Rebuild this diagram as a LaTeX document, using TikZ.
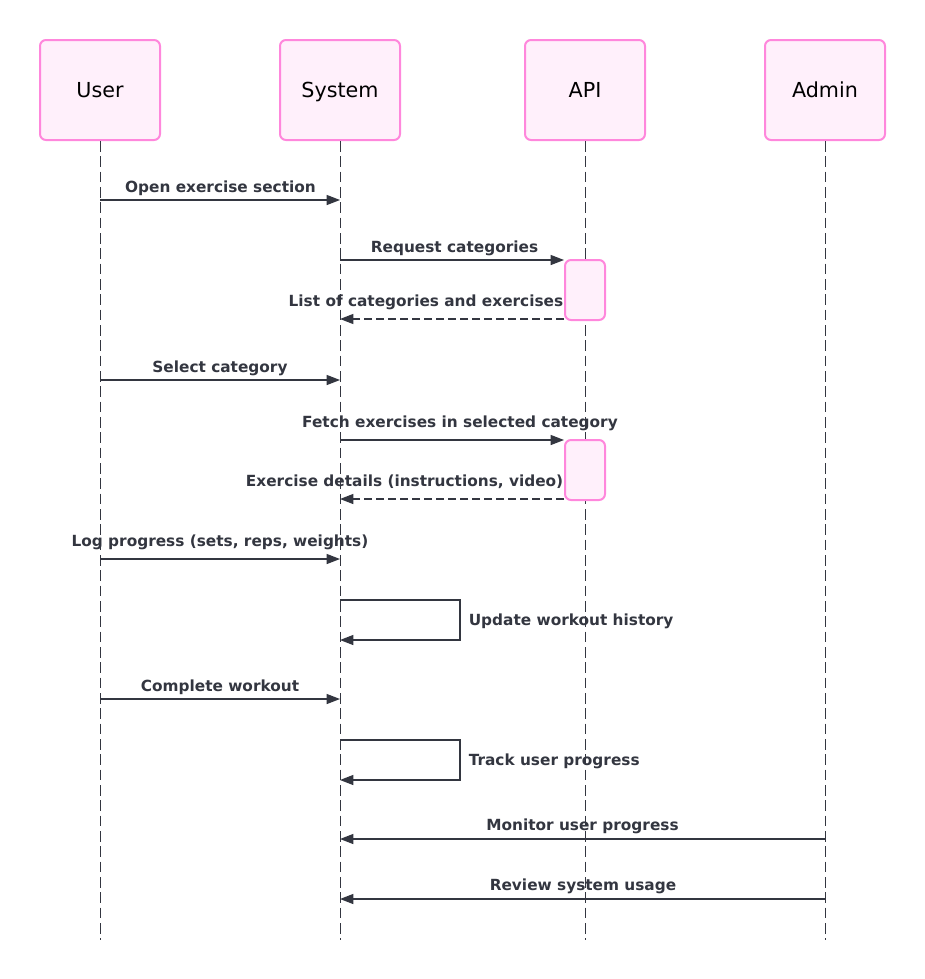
\documentclass[tikz,border=0pt]{standalone}
\usepackage{fontspec}
\setmainfont{DejaVu Sans}
\usetikzlibrary{arrows.meta}
\definecolor{pborder}{RGB}{255,135,220}
\definecolor{pfill}{RGB}{255,240,251}
\definecolor{ink}{RGB}{51,54,64}
\tikzset{
  x=0.75pt, y=-0.75pt,
  actor/.style={draw=pborder, fill=pfill, line width=1.5pt, rounded corners=4.5pt,
    minimum width=90pt, minimum height=75pt, inner sep=0pt, text height=11.5pt, text depth=0pt,
    font=\fontsize{15.5}{18}\selectfont, text=black},
  actbox/.style={draw=pborder, fill=pfill, line width=1.5pt, rounded corners=4.5pt,
    minimum width=30pt, minimum height=45pt, inner sep=0pt},
  lifeline/.style={draw=ink, line width=0.75pt, dash pattern=on 8pt off 3.5pt},
  msg/.style={draw=ink, line width=0.9pt, -{Triangle[length=10pt,width=7.5pt]}},
  reply/.style={msg, dash pattern=on 6pt off 3pt},
  lbl/.style={font=\fontsize{11.5}{14}\selectfont\bfseries, text=ink, inner sep=0pt},
}
\begin{document}
\begin{tikzpicture}
\useasboundingbox (0,0) rectangle (925,979);
% participants
\node[actor] (u) at (100,90) {User};
\node[actor] (s) at (340,90) {System};
\node[actor] (a) at (585,90) {API};
\node[actor] (ad) at (825,90) {Admin};
% lifeline ends
\coordinate (ue) at (100,940);
\coordinate (se) at (340,940);
\coordinate (ae) at (585,940);
\coordinate (ade) at (825,940);
\draw[lifeline] (u.south) -- (ue);
\draw[lifeline] (s.south) -- (se);
\draw[lifeline] (a.south) -- (ae);
\draw[lifeline] (ad.south) -- (ade);
% activation boxes
\node[actbox] (act1) at (585,290) {};
\node[actbox] (act2) at (585,470) {};
% messages
\draw[msg] (u |- 0,200) -- (s |- 0,200);
\node[lbl, anchor=base] (l1) at (220.5,192.5) {Open exercise section};

\draw[msg] (s |- 0,260) -- (act1.west |- 0,260);
\node[lbl, anchor=base] (l2) at (454.5,252.5) {Request categories};

\draw[reply] (act1.west |- 0,319) -- (s |- 0,319);
\node[lbl, anchor=base east] (l3) at (563.5,306) {List of categories and exercises};

\draw[msg] (u |- 0,380) -- (s |- 0,380);
\node[lbl, anchor=base] (l4) at (220,372) {Select category};

\draw[msg] (s |- 0,440) -- (act2.west |- 0,440);
\node[lbl, anchor=base] (l5) at (460,427.5) {Fetch exercises in selected category};

\draw[reply] (act2.west |- 0,499) -- (s |- 0,499);
\node[lbl, anchor=base east] (l6) at (563.5,486.5) {Exercise details (instructions, video)};

\draw[msg] (u |- 0,559) -- (s |- 0,559);
\node[lbl, anchor=base] (l7) at (220,546.5) {Log progress (sets, reps, weights)};

\draw[msg] (s |- 0,600) -- (460,600) -- (460,640) -- (s |- 0,640);
\node[lbl, anchor=base west] (l8) at (468.5,625) {Update workout history};

\draw[msg] (u |- 0,699) -- (s |- 0,699);
\node[lbl, anchor=base] (l9) at (220,691) {Complete workout};

\draw[msg] (s |- 0,740) -- (460,740) -- (460,780) -- (s |- 0,780);
\node[lbl, anchor=base west] (l10) at (468.5,765) {Track user progress};

\draw[msg] (ad |- 0,839) -- (s |- 0,839);
\node[lbl, anchor=base] (l11) at (582.5,830.5) {Monitor user progress};

\draw[msg] (ad |- 0,899) -- (s |- 0,899);
\node[lbl, anchor=base] (l12) at (583,890) {Review system usage};
\end{tikzpicture}
\end{document}
